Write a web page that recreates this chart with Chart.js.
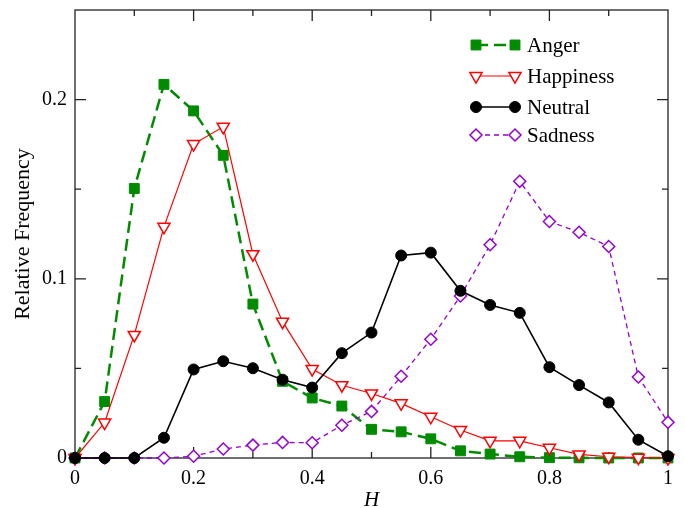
<!DOCTYPE html>
<html>
<head>
<meta charset="utf-8">
<script src="https://cdn.jsdelivr.net/npm/chart.js@4.4.1/dist/chart.umd.min.js"></script>
<style>
  html, body { margin: 0; padding: 0; background: #fff; }
  #contenedor { width: 685px; height: 508px; }
</style>
</head>
<body>
<div id="contenedor"><canvas id="grafico"></canvas></div>
<script>
// Valores (H en pasos de 0.05)
const valoresH = [0, 0.05, 0.1, 0.15, 0.2, 0.25, 0.3, 0.35, 0.4, 0.45, 0.5,
                  0.55, 0.6, 0.65, 0.7, 0.75, 0.8, 0.85, 0.9, 0.95, 1];
const anger = [0, 0.0315, 0.1504, 0.2085, 0.1937, 0.1689, 0.0859, 0.0428, 0.0335, 0.029, 0.016,
               0.0146, 0.0107, 0.004, 0.0022, 0.0007, 0.0002, 0.0001, 0, 0, 0];
const happiness = [0, 0.0198, 0.0687, 0.129, 0.1752, 0.1848, 0.1137, 0.0761, 0.0496, 0.0406, 0.036,
                   0.0305, 0.023, 0.0156, 0.0096, 0.0096, 0.0057, 0.002, 0.0007, 0.0002, 0];
const neutral = [0, 0, 0, 0.0113, 0.0494, 0.054, 0.0501, 0.0437, 0.0393, 0.0585, 0.070,
                 0.113, 0.1146, 0.0933, 0.0854, 0.081, 0.0507, 0.0407, 0.031, 0.0102, 0.001];
const sadness = [0, 0, 0, 0, 0.001, 0.005, 0.0072, 0.0087, 0.0085, 0.0183, 0.026,
                 0.0456, 0.0663, 0.0904, 0.119, 0.1544, 0.132, 0.126, 0.118, 0.0452, 0.020];
const etiquetas = ['Anger', 'Happiness', 'Neutral', 'Sadness'];

const fuente = '"Liberation Serif", "Times New Roman", serif';
Chart.defaults.font.family = fuente;
Chart.defaults.color = '#000';

function puntos(serie) {
    return valoresH.map((h, i) => ({ x: h, y: serie[i] }));
}

// Marco y marcas hacia dentro en los cuatro lados
const marcoTicks = {
    id: 'marcoTicks',
    beforeDatasetsDraw(chart) {
        const ctx = chart.ctx;
        const a = chart.chartArea;
        const sx = chart.scales.x, sy = chart.scales.y;
        ctx.save();
        ctx.strokeStyle = '#222';
        ctx.lineWidth = 1.3;
        ctx.strokeRect(a.left, a.top, a.right - a.left, a.bottom - a.top);
        ctx.beginPath();
        for (let i = 1; i < 10; i++) {
            const px = sx.getPixelForValue(i / 10);
            const largo = i % 2 === 0 ? 11 : 6;
            ctx.moveTo(px, a.bottom); ctx.lineTo(px, a.bottom - largo);
            ctx.moveTo(px, a.top); ctx.lineTo(px, a.top + largo);
        }
        for (let i = 1; i < 5; i++) {
            const py = sy.getPixelForValue(i * 0.05);
            const largo = i % 2 === 0 ? 11 : 6;
            ctx.moveTo(a.left, py); ctx.lineTo(a.left + largo, py);
            ctx.moveTo(a.right, py); ctx.lineTo(a.right - largo, py);
        }
        ctx.stroke();
        ctx.restore();
    }
};

// Leyenda con marcador en ambos extremos del segmento
const leyendaPropia = {
    id: 'leyendaPropia',
    afterDraw(chart) {
        const ctx = chart.ctx;
        const a = chart.chartArea;
        const x1 = a.right - 192, x2 = a.right - 153, xt = a.right - 141;
        const filas = [35, 66, 97, 125];
        chart.data.datasets.forEach((ds, i) => {
            const y = a.top + filas[i];
            ctx.save();
            ctx.strokeStyle = ds.borderColor;
            ctx.lineWidth = ds.borderWidth;
            ctx.setLineDash(ds.borderDash || []);
            ctx.beginPath();
            ctx.moveTo(x1, y);
            ctx.lineTo(x2, y);
            ctx.stroke();
            ctx.setLineDash([]);
            ctx.fillStyle = ds.pointBackgroundColor;
            ctx.strokeStyle = ds.pointBorderColor;
            ctx.lineWidth = ds.pointBorderWidth;
            const op = {
                pointStyle: ds.pointStyle,
                rotation: ds.pointRotation || 0,
                radius: ds.pointRadius,
                borderWidth: ds.pointBorderWidth
            };
            Chart.helpers.drawPoint(ctx, op, x1, y);
            Chart.helpers.drawPoint(ctx, op, x2, y);
            ctx.fillStyle = '#000';
            ctx.font = '21px ' + fuente;
            ctx.textBaseline = 'middle';
            ctx.fillText(ds.label, xt, y + 1);
            ctx.restore();
        });
    }
};

const ctx = document.getElementById('grafico').getContext('2d');
const miGrafico = new Chart(ctx, {
    type: 'line',
    data: {
        datasets: [
            {
                label: etiquetas[0],
                data: puntos(anger),
                borderColor: '#008b00',
                borderWidth: 2.5,
                borderDash: [12, 6],
                pointStyle: 'rect',
                pointRadius: 7,
                pointBackgroundColor: '#008b00',
                pointBorderColor: '#008b00',
                pointBorderWidth: 1,
                order: 4
            },
            {
                label: etiquetas[1],
                data: puntos(happiness),
                borderColor: '#ff0000',
                borderWidth: 1.2,
                pointStyle: 'triangle',
                pointRotation: 180,
                pointRadius: 7,
                pointBackgroundColor: '#fff',
                pointBorderColor: '#ff0000',
                pointBorderWidth: 1.5,
                order: 3
            },
            {
                label: etiquetas[2],
                data: puntos(neutral),
                borderColor: '#000',
                borderWidth: 1.6,
                pointStyle: 'circle',
                pointRadius: 5.5,
                pointBackgroundColor: '#000',
                pointBorderColor: '#000',
                pointBorderWidth: 1,
                order: 1
            },
            {
                label: etiquetas[3],
                data: puntos(sadness),
                borderColor: '#9400d3',
                borderWidth: 1.3,
                borderDash: [5, 4],
                pointStyle: 'rectRot',
                pointRadius: 6,
                pointBackgroundColor: '#fff',
                pointBorderColor: '#9400d3',
                pointBorderWidth: 1.5,
                order: 2
            }
        ]
    },
    options: {
        responsive: true,
        maintainAspectRatio: false,
        animation: false,
        clip: false,
        layout: { padding: { left: 0, right: 17, top: 10, bottom: 0 } },
        plugins: {
            legend: { display: false },
            tooltip: { enabled: false }
        },
        elements: { line: { tension: 0 } },
        scales: {
            x: {
                type: 'linear',
                min: 0,
                max: 1,
                afterFit: s => { s.height = 50; s.paddingLeft = 0; s.paddingRight = 0; },
                grid: { display: false, drawTicks: false },
                border: { display: false },
                ticks: {
                    stepSize: 0.2,
                    padding: 9,
                    font: { size: 20 },
                    callback: v => +v.toFixed(1)
                },
                title: {
                    display: true,
                    text: 'H',
                    font: { size: 21, style: 'italic', lineHeight: 1 },
                    padding: -3
                }
            },
            y: {
                min: 0,
                max: 0.25,
                afterFit: s => { s.width = 75; s.paddingTop = 0; s.paddingBottom = 0; },
                grid: { display: false, drawTicks: false },
                border: { display: false },
                ticks: {
                    stepSize: 0.1,
                    includeBounds: false,
                    padding: 8,
                    font: { size: 20 },
                    callback: v => +v.toFixed(2)
                },
                title: {
                    display: true,
                    text: 'Relative Frequency',
                    font: { size: 22 },
                    padding: 10
                }
            }
        }
    },
    plugins: [marcoTicks, leyendaPropia]
});
</script>
</body>
</html>
